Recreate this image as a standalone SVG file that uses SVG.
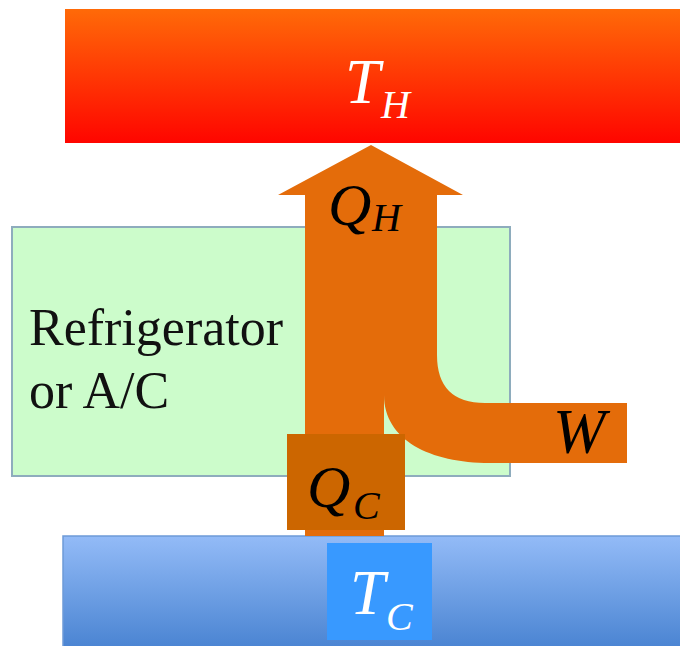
<svg xmlns="http://www.w3.org/2000/svg" width="680" height="646" viewBox="0 0 680 646">
  <style>
    .math { font-family: "Liberation Serif", "Times New Roman", serif; font-style: italic; }
    .lbl { font-family: "Liberation Serif", "Times New Roman", serif; font-size: 52px; fill: #111; }
    .white { fill: #ffffff; }
    .black { fill: #000000; }
  </style>
  <defs>
    <linearGradient id="hot" x1="0" y1="0" x2="0" y2="1">
      <stop offset="0" stop-color="#ff6a08"/>
      <stop offset="1" stop-color="#ff0500"/>
    </linearGradient>
    <linearGradient id="cold" x1="0" y1="0" x2="0" y2="1">
      <stop offset="0" stop-color="#93bbf7"/>
      <stop offset="1" stop-color="#4a84d2"/>
    </linearGradient>
  </defs>
  <rect x="0" y="0" width="680" height="646" fill="#ffffff"/>

  <g id="hot-reservoir">
    <rect x="65" y="9" width="620" height="134" fill="url(#hot)"/>
    <text class="math white" x="345" y="103" font-size="63">T</text>
    <text class="math white" x="381" y="118" font-size="40">H</text>
  </g>

  <g id="refrigerator">
    <rect x="12" y="227" width="498" height="249" fill="#ccfccb" stroke="#8eacbd" stroke-width="2"/>
    <text class="lbl" x="29" y="345">Refrigerator</text>
    <text class="lbl" x="29" y="408">or A/C</text>
  </g>

  <g id="cold-reservoir">
    <rect x="63" y="536" width="620" height="112" fill="url(#cold)" stroke="#6e9ad8" stroke-width="1.5"/>
    <rect x="327" y="543" width="105" height="97" fill="#3899ff"/>
    <text class="math white" x="350" y="614" font-size="63">T</text>
    <text class="math white" x="386" y="630" font-size="40">C</text>
  </g>

  <g id="connectors">
    <path d="M 305 536 L 305 195 L 278 195 L 371 145 L 463 195 L 437 195 L 437 355 Q 437 403 485 403 L 627 403 L 627 463 L 490 463 C 430 463 384 440 384 395 L 384 536 Z" fill="#e46c0a"/>
    <text class="math black" x="328" y="225" font-size="60">Q</text>
    <text class="math black" x="372" y="231" font-size="40">H</text>
    <text class="math black" x="553" y="453" font-size="63">W</text>
  </g>

  <g id="qc-label">
    <rect x="287" y="434" width="118" height="96" fill="#cc6600"/>
    <text class="math black" x="307" y="507" font-size="60">Q</text>
    <text class="math black" x="353" y="519" font-size="40">C</text>
  </g>
</svg>
